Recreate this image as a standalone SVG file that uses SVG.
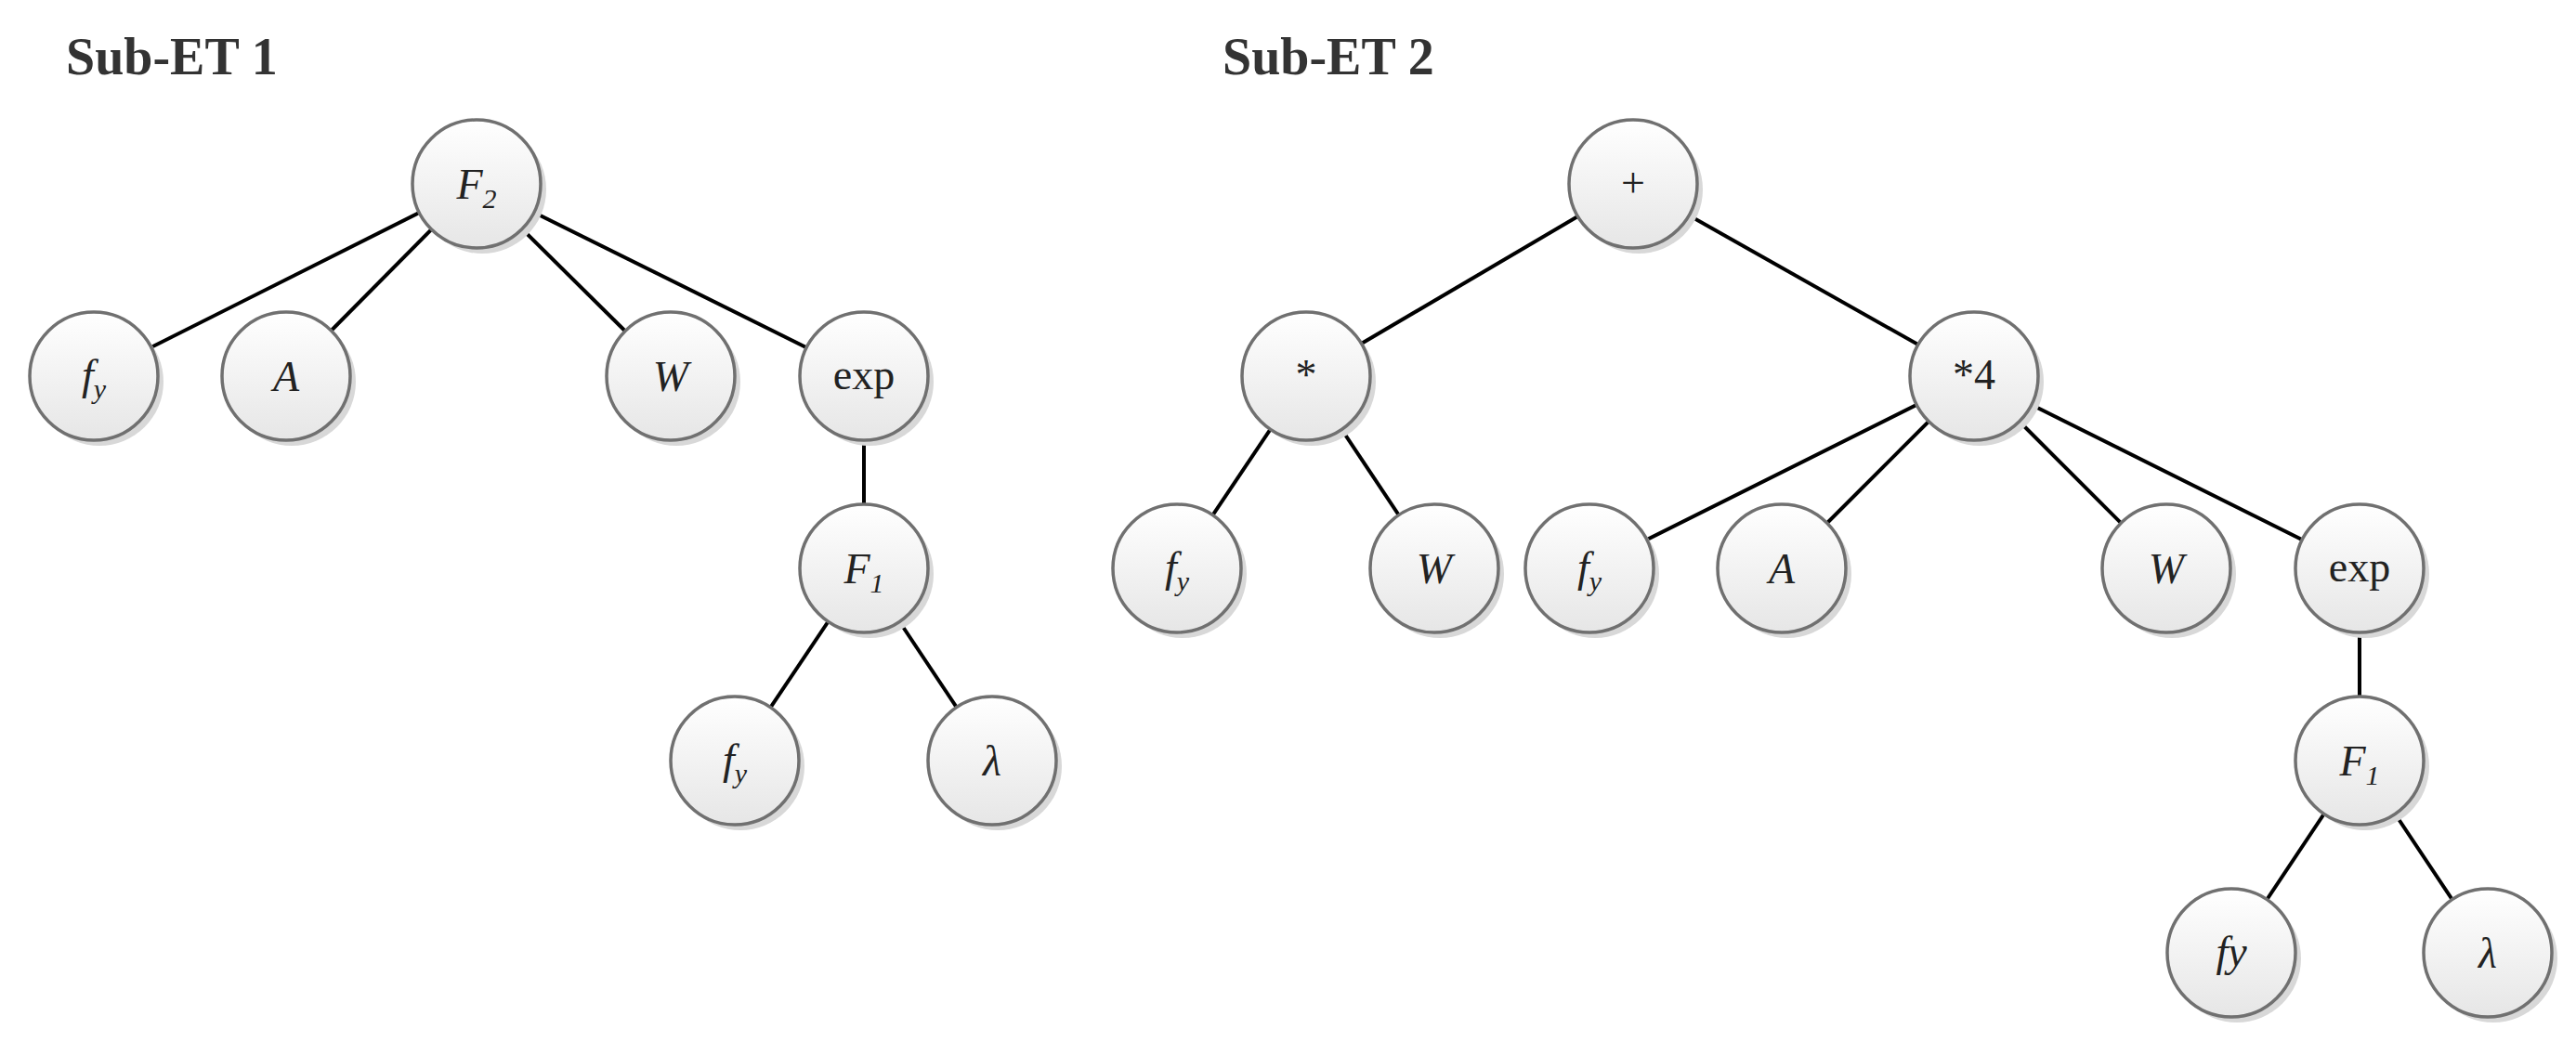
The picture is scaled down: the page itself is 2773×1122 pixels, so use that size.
<svg xmlns="http://www.w3.org/2000/svg" width="2773" height="1122" viewBox="0 0 2773 1122">
<defs>
<linearGradient id="g" x1="0" y1="0" x2="0" y2="1"><stop offset="0" stop-color="#ffffff"/><stop offset="1" stop-color="#e6e6e6"/></linearGradient>
<g id="n"><circle cx="6" cy="6" r="69" fill="#d8d8d8"/><circle r="69" fill="url(#g)" stroke="#707070" stroke-width="3.5"/></g>
</defs>
<style>
.t{font-family:"Liberation Serif",serif;font-size:46px;fill:#222;text-anchor:middle}
.i{font-style:italic}
.s{font-size:30px}
.h{font-family:"Liberation Serif",serif;font-weight:bold;font-size:56px;fill:#333}
line{stroke:#000;stroke-width:4}
</style>
<rect width="2773" height="1122" fill="#fff"/>
<text class="h" x="71" y="80">Sub-ET 1</text>
<text class="h" x="1316" y="80">Sub-ET 2</text>
<g id="connectors">
<line x1="513" y1="198" x2="101" y2="405"/><line x1="513" y1="198" x2="308" y2="405"/><line x1="513" y1="198" x2="722" y2="405"/><line x1="513" y1="198" x2="930" y2="405"/>
<line x1="930" y1="405" x2="930" y2="612"/><line x1="930" y1="612" x2="791" y2="819"/><line x1="930" y1="612" x2="1068" y2="819"/>
<line x1="1758" y1="198" x2="1406" y2="405"/><line x1="1758" y1="198" x2="2125" y2="405"/>
<line x1="1406" y1="405" x2="1267" y2="612"/><line x1="1406" y1="405" x2="1544" y2="612"/>
<line x1="2125" y1="405" x2="1711" y2="612"/><line x1="2125" y1="405" x2="1918" y2="612"/><line x1="2125" y1="405" x2="2332" y2="612"/><line x1="2125" y1="405" x2="2540" y2="612"/>
<line x1="2540" y1="612" x2="2540" y2="819"/><line x1="2540" y1="819" x2="2402" y2="1026"/><line x1="2540" y1="819" x2="2678" y2="1026"/>
</g>
<g id="n1" transform="translate(513,198)"><use href="#n"/><text class="t i" y="16">F<tspan class="s" dy="10">2</tspan></text></g>
<g id="n2" transform="translate(101,405)"><use href="#n"/><text class="t i" y="14">f<tspan class="s" dy="10">y</tspan></text></g>
<g id="n3" transform="translate(308,405)"><use href="#n"/><text class="t i" y="16">A</text></g>
<g id="n4" transform="translate(722,405)"><use href="#n"/><text class="t i" y="16">W</text></g>
<g id="n5" transform="translate(930,405)"><use href="#n"/><text class="t" y="14">exp</text></g>
<g id="n6" transform="translate(930,612)"><use href="#n"/><text class="t i" y="16">F<tspan class="s" dy="10">1</tspan></text></g>
<g id="n7" transform="translate(791,819)"><use href="#n"/><text class="t i" y="14">f<tspan class="s" dy="10">y</tspan></text></g>
<g id="n8" transform="translate(1068,819)"><use href="#n"/><text class="t i" y="16">λ</text></g>
<g id="m1" transform="translate(1758,198)"><use href="#n"/><text class="t" y="14">+</text></g>
<g id="m2" transform="translate(1406,405)"><use href="#n"/><text class="t" y="14">*</text></g>
<g id="m3" transform="translate(2125,405)"><use href="#n"/><text class="t" y="14">*4</text></g>
<g id="m4" transform="translate(1267,612)"><use href="#n"/><text class="t i" y="14">f<tspan class="s" dy="10">y</tspan></text></g>
<g id="m5" transform="translate(1544,612)"><use href="#n"/><text class="t i" y="16">W</text></g>
<g id="m6" transform="translate(1711,612)"><use href="#n"/><text class="t i" y="14">f<tspan class="s" dy="10">y</tspan></text></g>
<g id="m7" transform="translate(1918,612)"><use href="#n"/><text class="t i" y="16">A</text></g>
<g id="m8" transform="translate(2332,612)"><use href="#n"/><text class="t i" y="16">W</text></g>
<g id="m9" transform="translate(2540,612)"><use href="#n"/><text class="t" y="14">exp</text></g>
<g id="m10" transform="translate(2540,819)"><use href="#n"/><text class="t i" y="16">F<tspan class="s" dy="10">1</tspan></text></g>
<g id="m11" transform="translate(2402,1026)"><use href="#n"/><text class="t i" y="14">fy</text></g>
<g id="m12" transform="translate(2678,1026)"><use href="#n"/><text class="t i" y="16">λ</text></g>
</svg>
